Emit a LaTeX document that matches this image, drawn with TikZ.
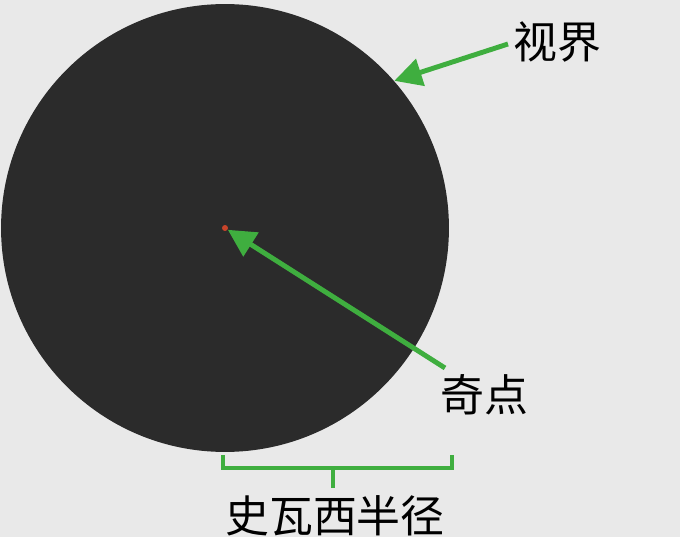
\documentclass[tikz,border=0pt]{standalone}
\usepackage{fontspec}
\newfontfamily\cjk{Noto Sans CJK SC}
\usetikzlibrary{arrows.meta}

\definecolor{bg}{HTML}{E9E9E9}
\definecolor{hole}{HTML}{2B2B2B}
\definecolor{pointer}{HTML}{3FAE3F}
\definecolor{dotred}{HTML}{C8442A}

\tikzstyle{label} = [font=\cjk\fontsize{25}{29}\selectfont, inner sep=0mm]
\tikzstyle{pointer} = [draw=pointer, line width=2.8pt, -{Triangle[length=5.5mm, width=5.5mm]}]
\tikzstyle{bracket} = [draw=pointer, line width=2.2pt]

\begin{document}
\begin{tikzpicture}[x=0.02cm, y=-0.02cm]
		\fill[bg] (0,0) rectangle (680,537);
		\useasboundingbox (0,0) rectangle (680,537);
		
		\node[circle, fill=hole, inner sep=0mm, minimum size=8.96cm] (horizon) at (225,228) {};
		\node[circle, fill=dotred, inner sep=0mm, minimum size=1.2mm] (singularity) at (225,228) {};
		
		\node[label] (horizon label) at (557,42) {视界};
		\node[label] (singularity label) at (484,395) {奇点};
		\node[label] (radius label) at (335,516) {史瓦西半径};
		
		\coordinate (horizon tail) at (508,44);
		\coordinate (singularity tail) at (445,368);
		
		\draw[pointer] (horizon tail) -- (horizon.41);
		\draw[pointer] (singularity tail) -- (singularity);
		
		% bracket under the radius
		\coordinate (b1) at (223,455);
		\coordinate (b2) at (452,455);
		\coordinate (stem) at (333,468);
		\draw[bracket] (b1) |- (stem) -| (b2);
		\draw[bracket] (stem) -- ++(0,20);
		
	\end{tikzpicture}
\end{document}
